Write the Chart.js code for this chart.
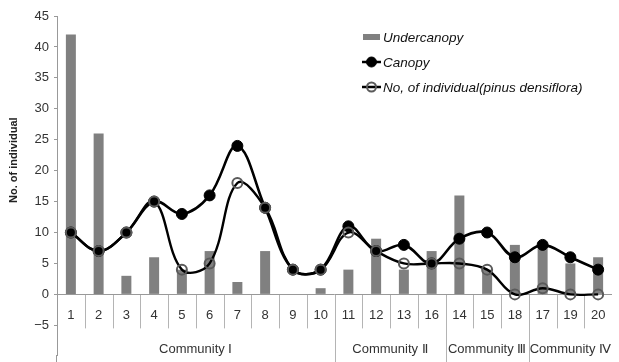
<!DOCTYPE html>
<html>
<head>
<meta charset="utf-8">
<script src="https://cdn.jsdelivr.net/npm/chart.js@4/dist/chart.umd.min.js"></script>
<style>
  html, body { margin: 0; padding: 0; background: #fff; }
  #wrap { width: 619px; height: 362px; position: relative; }
</style>
</head>
<body>
<div id="wrap"><canvas id="c"></canvas></div>
<script>
// Survey sites, in plotting order
const sites = ['1','2','3','4','5','6','7','8','9','10','11','12','13','16','14','15','18','17','19','20'];
// Counts per site
const undercanopy = [42,26,3,6,4,7,2,7,0,1,4,9,4,7,16,4,8,8,5,6];
const canopy      = [10,7,10,15,13,16,24,14,4,4,11,7,8,5,9,10,6,8,6,4];
const pinus       = [10,7,10,15,4,5,18,14,4,4,10,7,5,5,5,4,0,1,0,0];
// Community groups along the category axis
const communities = ['Community Ⅰ','Community Ⅱ','Community Ⅲ','Community Ⅳ'];
const communitySizes = [10,4,3,3];
// Value axis
const yMin = -9.8, yMax = 45, yStep = 5, yLowestTick = -5;
const yTitle = 'No. of individual';

const FONT = "'Liberation Sans', Arial, sans-serif";

// Category axis: baseline at zero, site labels and community brackets below it
const categoryAxis = {
  id: 'categoryAxis',
  beforeDatasetsDraw(chart) {
    const {ctx, chartArea} = chart;
    const x = chart.scales.x, y = chart.scales.y;
    const y0 = y.getPixelForValue(0);
    const ySiteEnd = y.getPixelForValue(-5.5);
    const ySite = y.getPixelForValue(-3.4);
    const yGroup = y.getPixelForValue(-8.9);
    const half = (x.getPixelForValue(1) - x.getPixelForValue(0)) / 2;
    ctx.save();
    ctx.lineWidth = 1;
    // value axis runs on to the bottom edge
    ctx.strokeStyle = '#999';
    ctx.beginPath();
    ctx.moveTo(Math.round(chartArea.left) - 0.5, chartArea.bottom);
    ctx.lineTo(Math.round(chartArea.left) - 0.5, chart.height);
    ctx.stroke();
    // separators between sites
    ctx.strokeStyle = '#b4b4b4';
    const groupEnds = [];
    let acc = 0;
    communitySizes.forEach(n => { acc += n; groupEnds.push(acc); });
    for (let i = 1; i < sites.length; i++) {
      const px = Math.round(x.getPixelForValue(i) - half) + 0.5;
      const isGroup = groupEnds.includes(i);
      ctx.beginPath();
      ctx.moveTo(px, y0);
      ctx.lineTo(px, isGroup ? chart.height : ySiteEnd);
      ctx.stroke();
    }
    // site labels
    ctx.fillStyle = '#333';
    ctx.font = '13px ' + FONT;
    ctx.textAlign = 'center';
    ctx.textBaseline = 'middle';
    sites.forEach((s, i) => ctx.fillText(s, x.getPixelForValue(i), ySite));
    // community labels
    let start = 0;
    communities.forEach((name, g) => {
      const end = start + communitySizes[g] - 1;
      const cx = (x.getPixelForValue(start) + x.getPixelForValue(end)) / 2;
      ctx.fillText(name, cx, yGroup);
      start = end + 1;
    });
    // zero baseline
    ctx.strokeStyle = '#999';
    ctx.beginPath();
    ctx.moveTo(chartArea.left, Math.round(y0) + 0.5);
    ctx.lineTo(chartArea.right, Math.round(y0) + 0.5);
    ctx.stroke();
    ctx.restore();
  },
  afterDraw(chart) {
    const {ctx} = chart;
    const y = chart.scales.y;
    ctx.save();
    // value axis title
    ctx.translate(14, (y.getPixelForValue(yMax) + y.getPixelForValue(0)) / 2 + 5);
    ctx.rotate(-Math.PI / 2);
    ctx.fillStyle = '#222';
    ctx.font = 'bold 11px ' + FONT;
    ctx.textAlign = 'center';
    ctx.textBaseline = 'middle';
    ctx.fillText(yTitle, 0, 0);
    ctx.restore();

    // legend
    const ds = chart.data.datasets;
    const lx = 362, ly = 37, gap = 25;
    ctx.save();
    ctx.font = 'italic 13.5px ' + FONT;
    ctx.textBaseline = 'middle';
    ctx.fillStyle = '#111';
    ds.forEach((d, i) => {
      const cy = ly + i * gap;
      if (d.type === 'bar') {
        ctx.fillStyle = d.backgroundColor;
        ctx.fillRect(lx + 1, cy - 3, 17, 6);
      } else {
        ctx.strokeStyle = d.borderColor;
        ctx.lineWidth = 2.5;
        ctx.beginPath();
        ctx.moveTo(lx, cy); ctx.lineTo(lx + 19, cy);
        ctx.stroke();
        ctx.beginPath();
        ctx.arc(lx + 9.5, cy, d.pointRadius - 0.5, 0, Math.PI * 2);
        if (d.pointBackgroundColor !== 'rgba(0,0,0,0)') {
          ctx.fillStyle = d.pointBackgroundColor;
          ctx.fill();
        }
        ctx.strokeStyle = d.pointBorderColor;
        ctx.lineWidth = d.pointBorderWidth;
        ctx.stroke();
      }
      ctx.fillStyle = '#111';
      ctx.fillText(d.label, lx + 21, cy + 1);
    });
    ctx.restore();
  }
};

new Chart(document.getElementById('c'), {
  data: {
    labels: sites,
    datasets: [
      {
        type: 'bar',
        label: 'Undercanopy',
        data: undercanopy,
        backgroundColor: '#808080',
        borderWidth: 0,
        categoryPercentage: 1,
        barPercentage: 0.36,
        order: 3
      },
      {
        type: 'line',
        label: 'Canopy',
        data: canopy,
        borderColor: '#000',
        borderWidth: 2.6,
        tension: 0.38,
        pointRadius: 5.5,
        pointBackgroundColor: '#000',
        pointBorderColor: '#000',
        pointBorderWidth: 1,
        order: 2
      },
      {
        type: 'line',
        label: 'No, of individual(pinus densiflora)',
        data: pinus,
        borderColor: '#000',
        borderWidth: 2.4,
        tension: 0.38,
        pointRadius: 5,
        pointBackgroundColor: 'rgba(0,0,0,0)',
        pointBorderColor: '#5a5a5a',
        pointBorderWidth: 2,
        order: 1
      }
    ]
  },
  options: {
    responsive: true,
    maintainAspectRatio: false,
    animation: false,
    layout: { padding: { top: 16, right: 0, bottom: 0, left: 0 } },
    plugins: { legend: { display: false }, tooltip: { enabled: false } },
    scales: {
      x: { display: false, offset: true },
      y: {
        min: yMin, max: yMax,
        ticks: {
          stepSize: yStep,
          color: '#333',
          font: { size: 13, family: FONT },
          padding: 5,
          callback: v => (v < 0 ? '−' + Math.abs(v) : String(v))
        },
        afterBuildTicks: s => { s.ticks = s.ticks.filter(t => t.value >= yLowestTick && t.value % yStep === 0); },
        afterFit: s => { s.width = 57; s.paddingTop = 0; s.paddingBottom = 0; },
        grid: { drawOnChartArea: false, drawTicks: true, tickLength: 3, color: '#999' },
        border: { display: true, color: '#999' }
      }
    }
  },
  plugins: [categoryAxis]
});
</script>
</body>
</html>
